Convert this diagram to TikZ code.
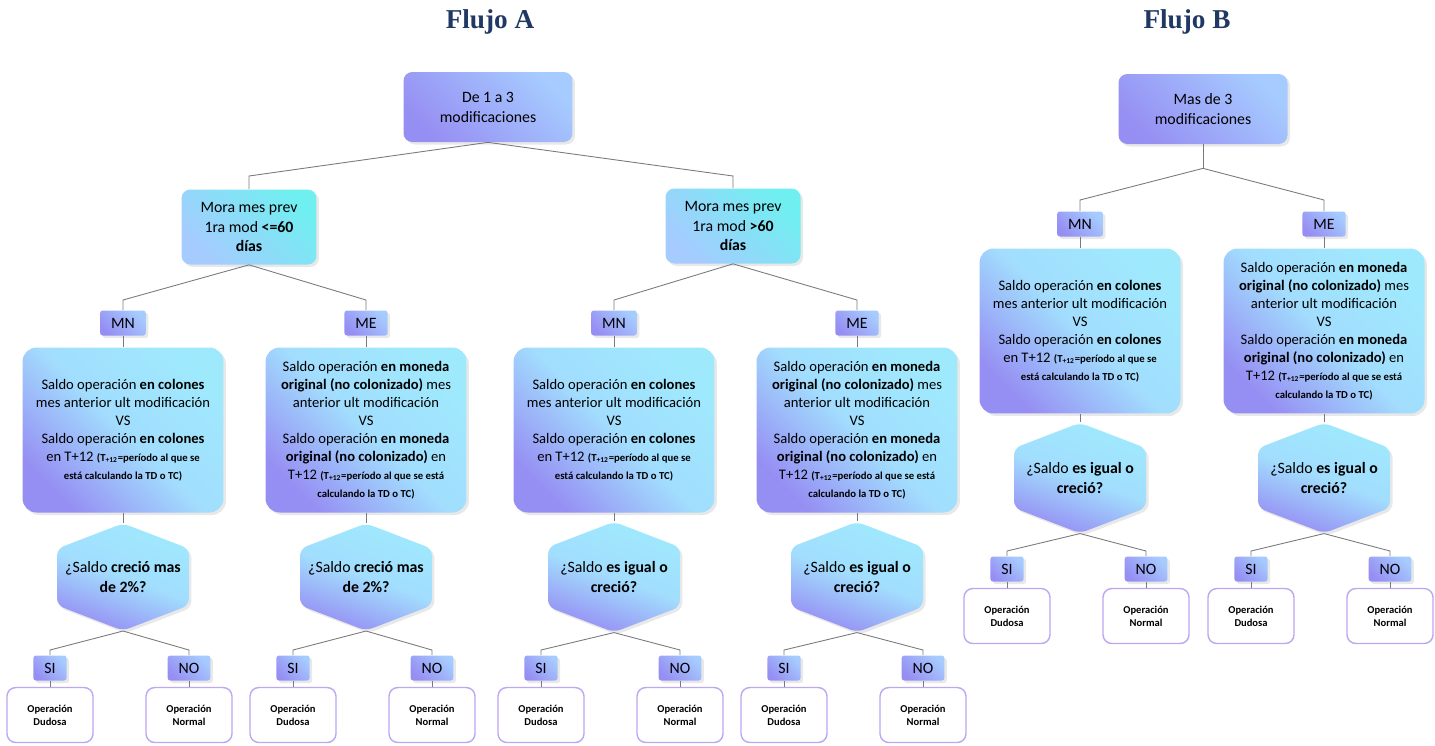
\documentclass[tikz,border=0pt]{standalone}
\usepackage{fontspec}
\setmainfont{Carlito}
\newfontfamily\titulofont{Liberation Serif}
\usetikzlibrary{positioning,shapes.symbols,shadows}

\definecolor{navy}{HTML}{203864}
\definecolor{lila}{HTML}{968FF3}
\definecolor{celeste}{HTML}{A6CBFF}
\definecolor{aqua}{HTML}{9FE9FD}
\definecolor{turquesa}{HTML}{70EFF0}
\definecolor{borde}{HTML}{BCA7F3}
\definecolor{gris}{HTML}{7A7A7A}

\newcommand{\nota}{\fontsize{6.1}{7.4}\selectfont\bfseries}

% texto de las cajas de comparacion
\newcommand{\txtMN}{Saldo operación \textbf{en colones}\\
  mes anterior ult modificación\\
  VS\\
  Saldo operación \textbf{en colones}\\
  en T+12 {\nota (T\textsubscript{+12}=período al que se}\\
  {\nota está calculando la TD o TC)}}
\newcommand{\txtME}{Saldo operación \textbf{en moneda}\\
  \textbf{original (no colonizado)} mes\\
  anterior ult modificación\\
  VS\\
  Saldo operación \textbf{en moneda}\\
  \textbf{original (no colonizado)} en\\
  T+12 {\nota (T\textsubscript{+12}=período al que se está}\\
  {\nota calculando la TD o TC)}}
\newcommand{\pregA}{¿Saldo \textbf{creció mas}\\ \textbf{de 2\%?}}
\newcommand{\pregB}{¿Saldo \textbf{es igual o}\\ \textbf{creció?}}

\tikzset{
  sombra/.style={drop shadow={opacity=0.18, shadow xshift=0.05cm, shadow yshift=-0.05cm}},
  titulo/.style={text=navy, font=\titulofont\bfseries\fontsize{15.5}{17}\selectfont},
  raiz/.style={rectangle, rounded corners=5pt, sombra, top color=celeste, bottom color=lila,
    shading angle=-45, minimum width=3.38cm, minimum height=1.4cm, align=center,
    font=\fontsize{9}{11.3}\selectfont},
  mora/.style={rectangle, rounded corners=5pt, sombra, top color=turquesa, bottom color=celeste,
    shading angle=-45, minimum width=2.7cm, minimum height=1.5cm, align=center,
    font=\fontsize{9}{11.3}\selectfont},
  etiqueta/.style={rectangle, rounded corners=1.5pt, sombra, top color=celeste, bottom color=lila,
    shading angle=-45, minimum height=0.5cm, inner xsep=0.22cm, font=\fontsize{9}{11}\selectfont},
  caja/.style={rectangle, rounded corners=8pt, sombra, top color=aqua, bottom color=lila,
    middle color=aqua!60!celeste, shading angle=-45, minimum width=4.02cm, minimum height=3.3cm,
    align=center, font=\fontsize{8.3}{10.2}\selectfont},
  pregunta/.style={signal, signal to=north and south, signal pointer angle=138, rounded corners=4pt,
    sombra, top color=aqua, bottom color=lila, middle color=aqua!60!celeste, shading angle=-20,
    minimum width=2.64cm, minimum height=2.02cm, inner sep=0pt, align=center,
    font=\fontsize{9}{11.3}\selectfont},
  hoja/.style={rectangle, rounded corners=5pt, draw=borde, line width=0.8pt, fill=white,
    minimum width=1.72cm, minimum height=1.1cm, align=center, font=\fontsize{6}{7.4}\selectfont\bfseries},
  conector/.style={draw=gris, line width=0.5pt}
}

\begin{document}
\begin{tikzpicture}[x=0.02cm, y=-0.02cm]
    \useasboundingbox (0,0) rectangle (1435,745);

    % titulos
    \node[titulo] (tituloA) at (490,22) {Flujo A};
    \node[titulo] (tituloB) at (1187,22) {Flujo B};

    % Flujo A: raiz y mora
    \node[raiz] (raizA) at (488,107) {De 1 a 3\\ modificaciones};
    \node[mora] (moraL) at (249,227) {Mora mes prev\\ 1ra mod \textbf{<=60}\\ \textbf{días}};
    \node[mora] (moraR) at (733,226) {Mora mes prev\\ 1ra mod \textbf{>60}\\ \textbf{días}};

    % Flujo B: raiz
    \node[raiz] (raizB) at (1203,109) {Mas de 3\\ modificaciones};

    % columnas: moneda, comparacion, pregunta y resultado
    \foreach \c/\x/\dy/\mon/\txt/\preg in {1/123/0/MN/\txtMN/\pregA, 2/366/0/ME/\txtME/\pregA,
        3/614/0/MN/\txtMN/\pregB, 4/857/0/ME/\txtME/\pregB,
        5/1080/-99/MN/\txtMN/\pregB, 6/1324/-99/ME/\txtME/\pregB} {
        \pgfmathsetmacro{\yt}{323+\dy}
        \pgfmathsetmacro{\yb}{430+\dy}
        \pgfmathsetmacro{\yh}{577+\dy}
        \pgfmathsetmacro{\yr}{668+\dy}
        \pgfmathsetmacro{\yc}{650+\dy}
        \pgfmathsetmacro{\yl}{715+\dy}
        \node[etiqueta] (tag\c) at (\x,\yt) {\mon};
        \node[caja] (caja\c) at (\x,\yb) {\txt};
        \node[pregunta] (hex\c) at (\x,\yh) {\preg};
        \node[etiqueta] (si\c) at (\x-73,\yr) {SI};
        \node[etiqueta] (no\c) at (\x+66,\yr) {NO};
        \node[hoja] (dud\c) at (\x-73,\yl) {Operación\\ Dudosa};
        \node[hoja] (nor\c) at (\x+66,\yl) {Operación\\ Normal};
        \draw[conector] (tag\c.south) -- (caja\c.north);
        \draw[conector] (caja\c.south) -- (hex\c.north);
        \draw[conector] (hex\c.south) -- (si\c.north |- 0,\yc) -- (si\c.north);
        \draw[conector] (hex\c.south) -- (no\c.north |- 0,\yc) -- (no\c.north);
        \draw[conector] (si\c.south) -- (dud\c.north);
        \draw[conector] (no\c.south) -- (nor\c.north);
    }

    % conectores Flujo A
    \draw[conector] (raizA.south) -- (moraL.north |- 0,176) -- (moraL.north);
    \draw[conector] (raizA.south) -- (moraR.north |- 0,176) -- (moraR.north);
    \draw[conector] (moraL.south) -- (tag1.north |- 0,300) -- (tag1.north);
    \draw[conector] (moraL.south) -- (tag2.north |- 0,300) -- (tag2.north);
    \draw[conector] (moraR.south) -- (tag3.north |- 0,300) -- (tag3.north);
    \draw[conector] (moraR.south) -- (tag4.north |- 0,300) -- (tag4.north);

    % conectores Flujo B
    \draw[conector] (raizB.south) -- ++(0,24) coordinate (nudoB);
    \draw[conector] (nudoB) -- (tag5.north |- 0,200) -- (tag5.north);
    \draw[conector] (nudoB) -- (tag6.north |- 0,200) -- (tag6.north);
\end{tikzpicture}
\end{document}
